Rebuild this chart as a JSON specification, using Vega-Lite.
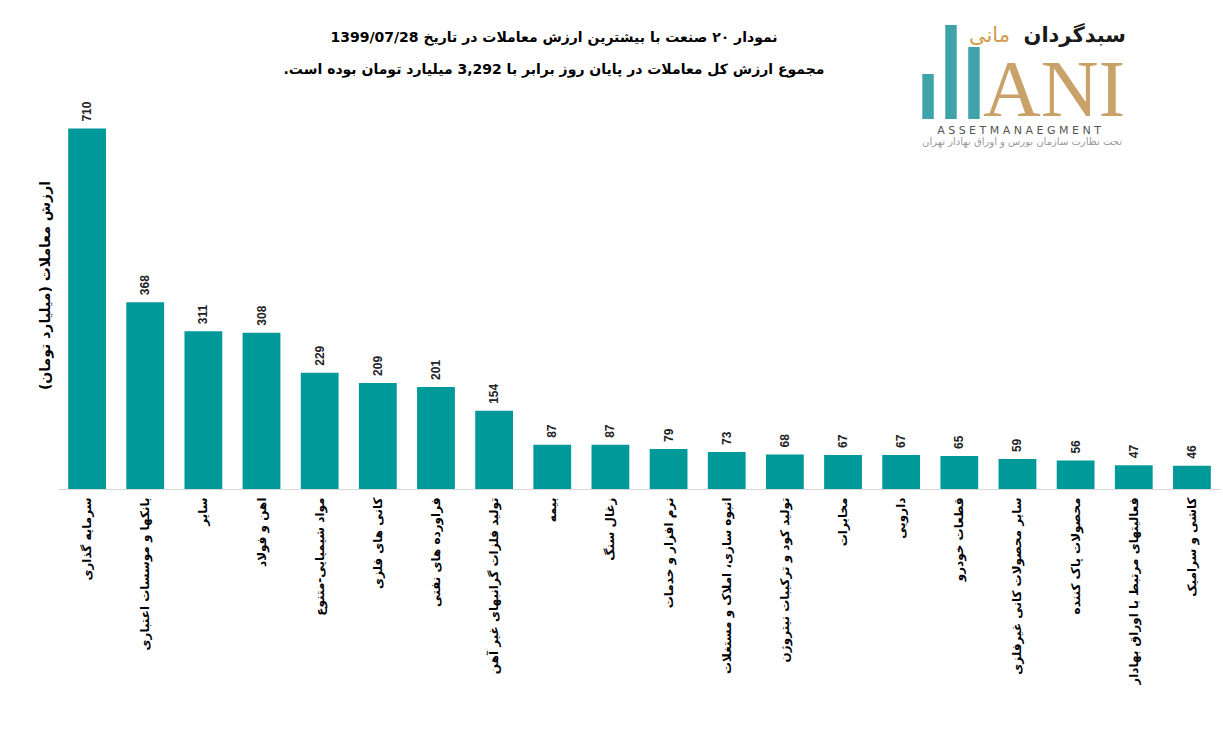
{
  "$schema": "https://vega.github.io/schema/vega-lite/v6.json",
  "padding": {"left": 38, "top": 22, "right": 0, "bottom": 0},
  "background": "white",
  "bounds": "flush",
  "spacing": 0,
  "vconcat": [
    {
      "spacing": 0,
      "bounds": "flush",
      "hconcat": [
        {
          "width": 862,
          "height": 64,
          "data": {
            "values": [
              {"line": 1, "text": "\u202bنمودار  ۲۰ صنعت با بیشترین ارزش معاملات در تاریخ 1399/07/28\u202c"},
              {"line": 2, "text": "\u202bمجموع ارزش  کل معاملات در پایان روز برابر با 3,292 میلیارد تومان بوده است.\u202c"}
            ]
          },
          "mark": {"type": "text", "font": "DejaVu Sans", "fontSize": 14, "fontWeight": "bold", "color": "#000000", "dx": 65},
          "encoding": {
            "y": {"field": "line", "type": "ordinal", "axis": null},
            "text": {"field": "text"}
          }
        },
        {
          "width": 62,
          "height": 97,
          "data": {"values": [{"part": "a", "h": 45}, {"part": "b", "h": 94}, {"part": "c", "h": 72}]},
          "mark": {"type": "bar", "color": "#3FA3AA"},
          "encoding": {
            "x": {"field": "part", "type": "nominal", "axis": null, "scale": {"paddingInner": 0.5, "paddingOuter": 0.1}},
            "y": {"field": "h", "type": "quantitative", "axis": null, "scale": {"domain": [0, 97], "nice": false}}
          }
        },
        {
          "width": 144,
          "height": 107,
          "data": {
            "values": [
              {"part": "brand1", "text": "سبدگردان"},
              {"part": "brand2", "text": "مانی"},
              {"part": "ani", "text": "ANI"},
              {"part": "asset", "text": "A S S E T M A N A E G M E N T"},
              {"part": "sub", "text": "تحت نظارت سازمان بورس و اوراق بهادار تهران"}
            ]
          },
          "layer": [
            {
              "transform": [{"filter": "datum.part == 'brand1'"}],
              "mark": {"type": "text", "font": "DejaVu Sans", "fontSize": 21, "fontWeight": "bold", "color": "#1a1a1a", "align": "right", "dx": 72, "dy": -40},
              "encoding": {"text": {"field": "text"}}
            },
            {
              "transform": [{"filter": "datum.part == 'brand2'"}],
              "mark": {"type": "text", "font": "DejaVu Sans", "fontSize": 21, "color": "#D49A4E", "align": "left", "dx": -85, "dy": -40},
              "encoding": {"text": {"field": "text"}}
            },
            {
              "transform": [{"filter": "datum.part == 'ani'"}],
              "mark": {"type": "text", "font": "Liberation Serif", "fontSize": 80, "color": "#C9A26A", "baseline": "alphabetic", "dx": 0, "dy": 40},
              "encoding": {"text": {"field": "text"}}
            },
            {
              "transform": [{"filter": "datum.part == 'asset'"}],
              "mark": {"type": "text", "font": "DejaVu Sans", "fontSize": 11, "color": "#555555", "dx": -35, "dy": 55},
              "encoding": {"text": {"field": "text"}}
            },
            {
              "transform": [{"filter": "datum.part == 'sub'"}],
              "mark": {"type": "text", "font": "DejaVu Sans", "fontSize": 10, "color": "#9a9a9a", "dx": -32, "dy": 66},
              "encoding": {"text": {"field": "text"}}
            }
          ]
        }
      ]
    },
    {
      "width": 1163,
      "height": 467,
      "data": {
        "values": [
          {"industry": "سرمایه گذاری", "value": 710},
          {"industry": "بانکها و موسسات اعتباری", "value": 368},
          {"industry": "سایر", "value": 311},
          {"industry": "اهن و فولاد", "value": 308},
          {"industry": "مواد شیمیایی-متنوع", "value": 229},
          {"industry": "کانی های فلزی", "value": 209},
          {"industry": "فراورده های نفتی", "value": 201},
          {"industry": "تولید فلزات گرانبهای غیر آهن", "value": 154},
          {"industry": "بیمه", "value": 87},
          {"industry": "زغال سنگ", "value": 87},
          {"industry": "نرم افزار و خدمات", "value": 79},
          {"industry": "انبوه سازی، املاک و مستغلات", "value": 73},
          {"industry": "تولید کود و ترکیبات نیتروژن", "value": 68},
          {"industry": "مخابرات", "value": 67},
          {"industry": "دارویی", "value": 67},
          {"industry": "قطعات خودرو", "value": 65},
          {"industry": "سایر محصولات کانی غیرفلزی", "value": 59},
          {"industry": "محصولات پاک کننده", "value": 56},
          {"industry": "فعالیتهای مرتبط با اوراق بهادار", "value": 47},
          {"industry": "کاشی و سرامیک", "value": 46}
        ]
      },
      "encoding": {
        "x": {
          "field": "industry",
          "type": "nominal",
          "sort": null,
          "title": null,
          "scale": {"paddingInner": 0.35, "paddingOuter": 0.175},
          "axis": {
            "labelAngle": -90,
            "labelPadding": 8,
            "labelFont": "DejaVu Sans",
            "labelFontSize": 12,
            "labelFontWeight": "bold",
            "labelColor": "#000000",
            "labelLimit": 300,
            "ticks": false,
            "domainColor": "#D9D9D9",
            "domainWidth": 1
          }
        },
        "y": {
          "field": "value",
          "type": "quantitative",
          "title": "\u202bارزش معاملات (میلیارد تومان)\u202c",
          "scale": {"domain": [0, 920], "nice": false},
          "axis": {
            "labels": false,
            "ticks": false,
            "domain": false,
            "grid": false,
            "titleFont": "DejaVu Sans",
            "titleFontSize": 14,
            "titleFontWeight": "bold",
            "titleColor": "#000000",
            "titlePadding": 6,
            "titleY": 263
          }
        }
      },
      "layer": [
        {"mark": {"type": "bar", "color": "#009999"}},
        {
          "mark": {"type": "text", "angle": 270, "align": "left", "baseline": "middle", "dx": 7, "font": "Liberation Sans", "fontSize": 12, "fontWeight": "bold", "color": "#222222"},
          "encoding": {"text": {"field": "value", "type": "quantitative"}}
        }
      ]
    }
  ],
  "config": {
    "view": {"stroke": null}
  }
}
